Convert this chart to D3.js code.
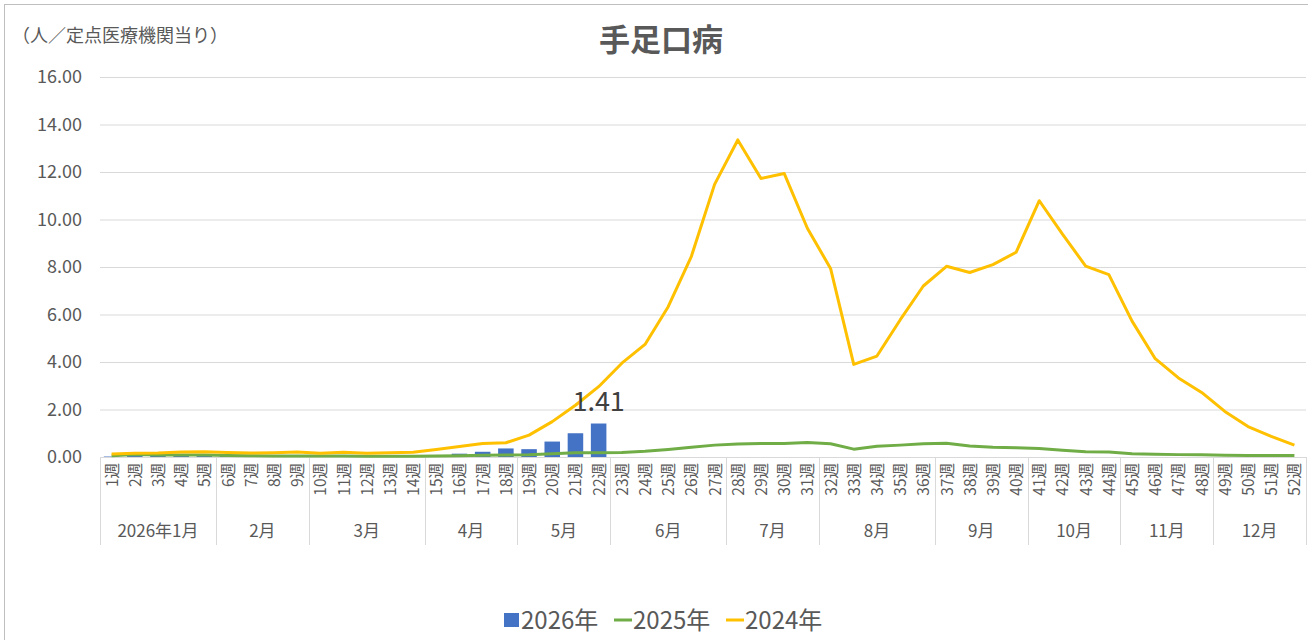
<!DOCTYPE html>
<html>
<head>
<meta charset="utf-8">
<script src="https://cdn.jsdelivr.net/npm/d3@7"></script>
<style>
  body { margin: 0; background: #fff; }
  text { font-family: "Noto Sans CJK JP", "Noto Sans", sans-serif; fill: #595959; }
</style>
</head>
<body>
<script>
const WIDTH = 1308;
const HEIGHT = 640;

const weeks = d3.range(1, 53).map(w => w + '週');
const months = [
  { label: '2026年1月', from: 1, to: 5 },
  { label: '2月', from: 6, to: 9 },
  { label: '3月', from: 10, to: 14 },
  { label: '4月', from: 15, to: 18 },
  { label: '5月', from: 19, to: 22 },
  { label: '6月', from: 23, to: 27 },
  { label: '7月', from: 28, to: 31 },
  { label: '8月', from: 32, to: 36 },
  { label: '9月', from: 37, to: 40 },
  { label: '10月', from: 41, to: 44 },
  { label: '11月', from: 45, to: 48 },
  { label: '12月', from: 49, to: 52 }
];
const yTicks = [0, 2, 4, 6, 8, 10, 12, 14, 16];

// 2026 only has data up to week 22
const y2026 = [0.02, 0.04, 0.06, 0.07, 0.06, 0.04, 0.03, 0.03, 0.02, 0.02,
  0.02, 0.02, 0.03, 0.03, 0.05, 0.14, 0.22, 0.36, 0.33, 0.65, 1.0, 1.41];
const y2025 = [0.05, 0.1, 0.08, 0.08, 0.08, 0.06, 0.05, 0.04, 0.04, 0.04,
  0.04, 0.03, 0.03, 0.03, 0.04, 0.05, 0.07, 0.08, 0.09, 0.14, 0.18, 0.18,
  0.19, 0.24, 0.32, 0.41, 0.5, 0.55, 0.57, 0.57, 0.61, 0.56, 0.33, 0.45,
  0.5, 0.56, 0.58, 0.46, 0.41, 0.39, 0.36, 0.28, 0.22, 0.21, 0.14, 0.12,
  0.1, 0.09, 0.07, 0.06, 0.06, 0.06];
const y2024 = [0.13, 0.16, 0.17, 0.21, 0.22, 0.19, 0.17, 0.18, 0.21, 0.16,
  0.2, 0.16, 0.18, 0.2, 0.32, 0.44, 0.57, 0.6, 0.92, 1.49, 2.18, 2.96,
  3.95, 4.74, 6.33, 8.45, 11.48, 13.35, 11.73, 11.94, 9.63, 7.94, 3.9, 4.25,
  5.77, 7.2, 8.03, 7.77, 8.1, 8.62, 10.79, 9.38, 8.04, 7.68, 5.72, 4.14,
  3.33, 2.72, 1.92, 1.28, 0.87, 0.5];

const series = [
  { name: '2026年', type: 'bar', color: '#4472C4', values: y2026 },
  { name: '2025年', type: 'line', color: '#70AD47', values: y2025 },
  { name: '2024年', type: 'line', color: '#FFC000', values: y2024 }
];

const margin = { left: 100, right: 2, top: 77, bottom: 183 };
const plotBottom = HEIGHT - margin.bottom;

const svg = d3.select('body').append('svg')
  .attr('width', WIDTH)
  .attr('height', HEIGHT);

svg.append('rect')
  .attr('x', 4.5).attr('y', 4.5)
  .attr('width', WIDTH).attr('height', HEIGHT)
  .attr('fill', 'none')
  .attr('stroke', '#bfbfbf');

const x = d3.scaleBand()
  .domain(weeks)
  .range([margin.left, WIDTH - margin.right])
  .paddingInner(0.33)
  .paddingOuter(0.165);

const y = d3.scaleLinear()
  .domain([0, 16])
  .range([plotBottom, margin.top]);

const step = x.step();
const x0 = margin.left;
const xc = i => x(weeks[i]) + x.bandwidth() / 2;

// gridlines + y axis labels
const yAxis = svg.append('g')
  .attr('transform', `translate(${x0},0)`)
  .call(d3.axisLeft(y).tickValues(yTicks).tickFormat(d3.format('.2f'))
    .tickSize(-(WIDTH - margin.right - x0)).tickPadding(18));
yAxis.select('.domain').remove();
yAxis.selectAll('.tick line').attr('stroke', '#d9d9d9');
yAxis.selectAll('.tick text').attr('font-size', 18).attr('fill', '#595959');

// category axis lines
svg.append('line')
  .attr('x1', x0).attr('x2', WIDTH - margin.right)
  .attr('y1', plotBottom + 0.5).attr('y2', plotBottom + 0.5)
  .attr('stroke', '#d9d9d9');

const bounds = [0].concat(months.map(m => m.to));
svg.selectAll('.sep')
  .data(bounds)
  .join('line')
  .attr('x1', d => Math.round(x0 + d * step) + 0.5)
  .attr('x2', d => Math.round(x0 + d * step) + 0.5)
  .attr('y1', plotBottom)
  .attr('y2', plotBottom + 88)
  .attr('stroke', '#d9d9d9');

svg.selectAll('.wk')
  .data(weeks)
  .join('text')
  .attr('transform', (d, i) => `translate(${xc(i) + 6},${plotBottom + 6}) rotate(-90)`)
  .attr('text-anchor', 'end')
  .attr('font-size', 15.5)
  .text(d => d);

svg.selectAll('.mo')
  .data(months)
  .join('text')
  .attr('x', d => x0 + ((d.from - 1) + d.to) / 2 * step)
  .attr('y', plotBottom + 80)
  .attr('text-anchor', 'middle')
  .attr('font-size', 17)
  .text(d => d.label);

// bars
svg.selectAll('.bar')
  .data(y2026)
  .join('rect')
  .attr('x', (d, i) => x(weeks[i]))
  .attr('width', x.bandwidth())
  .attr('y', d => y(d))
  .attr('height', d => plotBottom - y(d))
  .attr('fill', '#4472C4');

const line = d3.line()
  .x((d, i) => xc(i))
  .y(d => y(d));

series.filter(s => s.type === 'line').forEach(s => {
  svg.append('path')
    .attr('d', line(s.values))
    .attr('fill', 'none')
    .attr('stroke', s.color)
    .attr('stroke-width', 3)
    .attr('stroke-linejoin', 'round');
});

// data label for latest week
const last = y2026.length - 1;
svg.append('text')
  .attr('x', xc(last))
  .attr('y', y(y2026[last]) - 13)
  .attr('text-anchor', 'middle')
  .attr('font-size', 27)
  .style('fill', '#404040')
  .text(y2026[last].toFixed(2));

// titles
svg.append('text')
  .attr('x', 661).attr('y', 51)
  .attr('text-anchor', 'middle')
  .attr('font-size', 31)
  .attr('font-weight', 'bold')
  .text('手足口病');

svg.append('text')
  .attr('x', 12).attr('y', 42)
  .attr('font-size', 18)
  .text('（人／定点医療機関当り）');

// legend
const legendX = [504, 614, 726];
const legend = svg.selectAll('.lg')
  .data(series)
  .join('g')
  .attr('transform', (d, i) => `translate(${legendX[i]},620)`);
legend.each(function (d) {
  const g = d3.select(this);
  if (d.type === 'bar') {
    g.append('rect').attr('x', 0).attr('y', -7).attr('width', 15).attr('height', 14).attr('fill', d.color);
  } else {
    g.append('line').attr('x1', 0).attr('x2', 18).attr('y1', 0).attr('y2', 0)
      .attr('stroke', d.color).attr('stroke-width', 3);
  }
  g.append('text')
    .attr('x', d.type === 'bar' ? 17 : 19)
    .attr('y', 8.5)
    .attr('font-size', 24)
    .text(d.name);
});
</script>
</body>
</html>
